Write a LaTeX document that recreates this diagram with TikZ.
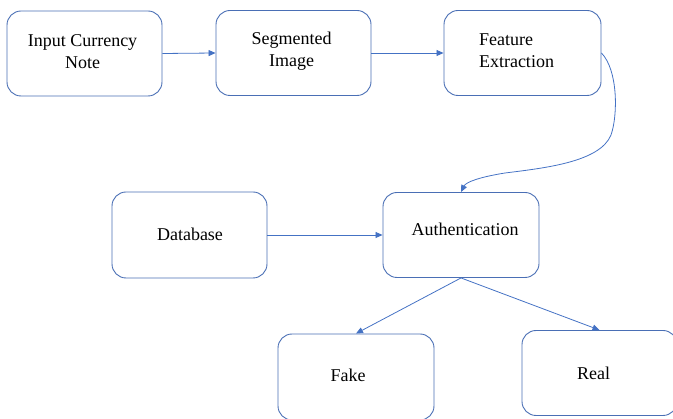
\documentclass[tikz,border=0pt]{standalone}
\usepackage{fontspec}
\setmainfont{Liberation Serif}
\usetikzlibrary{arrows.meta}
\definecolor{boxblue}{HTML}{4A6FB5}
\definecolor{arrblue}{HTML}{4472C4}
\begin{document}
\begin{tikzpicture}[x=1pt,y=-1pt,
  box/.style={draw=boxblue,line width=0.9pt,rounded corners=14pt,fill=white,
    minimum width=155pt,minimum height=85pt,inner sep=0pt},
  txt/.style={font=\fontsize{18}{22}\selectfont,align=center,text=black},
  conn/.style={draw=arrblue,line width=0.8pt,-{Triangle[length=7pt,width=6pt]}}]
\useasboundingbox (0,0) rectangle (673,419);
\clip (0,0) rectangle (673,419);
\node[box] (in)   at (84.5,53.5) {};
\node[box] (seg)  at (293.5,53) {};
\node[box,minimum width=157pt] (feat) at (522.5,53) {};
\node[box,minimum height=86pt] (db) at (189.5,235) {};
\node[box,minimum width=156pt] (auth) at (461,235) {};
\node[box,minimum width=156pt,minimum height=86pt] (fake) at (356,377) {};
\node[box] (real) at (599.5,373) {};
\node[txt] at ([shift={(-2pt,1.5pt)}]in.center) {Input Currency\\Note};
\node[txt] at ([shift={(-2pt,2pt)}]seg.center) {Segmented\\Image};
\node[txt,align=left] at ([shift={(-6pt,2pt)}]feat.center) {Feature\\Extraction};
\node[txt] at ([shift={(0.5pt,1pt)}]db.center) {Database};
\node[txt] at ([shift={(4pt,6pt)}]auth.center) {Authentication};
\node[txt] at ([shift={(-8pt,2pt)}]fake.center) {Fake};
\node[txt] at ([shift={(-6pt,0pt)}]real.center) {Real};
\draw[conn] (in.east) -- (seg.west);
\draw[conn] (seg.east) -- (feat.west);
\draw[conn] (feat.east) .. controls (618,70) and (618,115) .. (611,135)
  .. controls (600,162) and (545,168) .. (505,173)
  .. controls (480,177) and (466,182) .. (auth.north);
\draw[conn] (db.east) -- (auth.west);
\draw[conn] (auth.south) -- (fake.north);
\draw[conn] (auth.south) -- (real.north);
\end{tikzpicture}
\end{document}
